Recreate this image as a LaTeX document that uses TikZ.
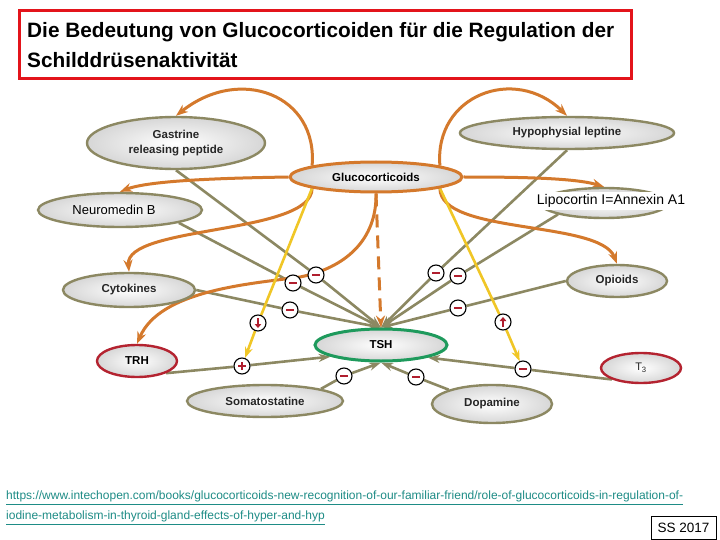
\documentclass[tikz,border=0pt]{standalone}
\usepackage{fontspec}
\setmainfont{Liberation Sans}
\usetikzlibrary{arrows.meta,shapes.geometric,calc}
\pgfdeclarelayer{bg}
\pgfsetlayers{bg,main}
\definecolor{olv}{HTML}{8C8862}
\definecolor{org}{HTML}{D4792C}
\definecolor{ylw}{HTML}{F0C626}
\definecolor{tshg}{HTML}{1E9A5C}
\definecolor{redb}{HTML}{B42330}
\definecolor{ttl}{HTML}{E3141B}
\definecolor{urlc}{HTML}{1E8C86}
\definecolor{sgnc}{HTML}{B01E2E}
\begin{document}
\begin{tikzpicture}[x=1pt,y=-1pt,
  ell/.style={ellipse, draw=olv, line width=2.4pt, inner sep=0pt, inner color=white, outer color=black!16,
    font=\bfseries\fontsize{11.5}{15}\selectfont, text=black!85, align=center},
  sgn/.style={circle, draw=black, line width=1.1pt, fill=white, minimum size=16pt, inner sep=0pt},
  minus/.style={sgn, path picture={\draw[sgnc, line width=2.2pt] ([xshift=-4pt]path picture bounding box.center) -- ([xshift=4pt]path picture bounding box.center);}},
  plus/.style={sgn, path picture={\draw[sgnc, line width=2pt] ([xshift=-4pt]path picture bounding box.center) -- ([xshift=4pt]path picture bounding box.center) ([yshift=-4pt]path picture bounding box.center) -- ([yshift=4pt]path picture bounding box.center);}},
  downc/.style={sgn, path picture={\draw[sgnc, line width=1.8pt, -{Triangle[length=4pt,width=6.5pt]}] ([yshift=5pt]path picture bounding box.center) -- ([yshift=-5pt]path picture bounding box.center);}},
  upc/.style={sgn, path picture={\draw[sgnc, line width=1.8pt, -{Triangle[length=4pt,width=6.5pt]}] ([yshift=-5pt]path picture bounding box.center) -- ([yshift=5pt]path picture bounding box.center);}},
  oliv/.style={draw=olv, line width=2.6pt},
  oarr/.style={oliv, -{Stealth[length=12pt,width=8pt]}},
  orng/.style={draw=org, line width=3pt, -{Stealth[length=12pt,width=9pt]}},
  yel/.style={draw=ylw, line width=2.6pt},
  yarr/.style={yel, -{Stealth[length=11pt,width=8pt]}},
]
\useasboundingbox (0,0) rectangle (720,540);
\begin{pgfonlayer}{bg}
\fill[white] (0,0) rectangle (720,540);
\end{pgfonlayer}

% title
\node[draw=ttl, line width=3pt, minimum width=612pt, minimum height=68pt, inner sep=0pt] (titlebox) at (325,45) {};
\node[anchor=west, align=left, inner sep=0pt, font=\bfseries\fontsize{20.8}{30}\selectfont] (title) at (27,45)
  {Die Bedeutung von Glucocorticoiden für die Regulation der\\Schilddrüsenaktivität};

% ellipses
\node[ell, minimum width=178pt, minimum height=52pt] (gastrine) at (176,143) {Gastrine\\releasing peptide};
\node[ell, draw=org, line width=3pt, text=black, minimum width=172pt, minimum height=30pt] (gc) at (376,177) {Glucocorticoids};
\node[ell, minimum width=214pt, minimum height=32pt] (leptine) at (567,133) {Hypophysial leptine};
\node[ell, minimum width=164pt, minimum height=34pt, font=\fontsize{13}{15}\selectfont, text=black] (neuromedin) at (120,210) {Neuromedin B\hspace{12pt}};
\node[ell, minimum width=128pt, minimum height=30pt] (lipo) at (604,203) {};
\node[fill=white, inner xsep=2pt, inner ysep=2pt, font=\fontsize{14}{16}\selectfont] (lipotext) at (611,201) {Lipocortin I=Annexin A1};
\node[ell, minimum width=132pt, minimum height=34pt] (cyto) at (129,290) {Cytokines};
\node[ell, minimum width=100pt, minimum height=32pt] (opioids) at (617,281) {Opioids};
\node[ell, draw=tshg, line width=3pt, text=black, minimum width=132pt, minimum height=32pt] (tsh) at (381,345) {TSH};
\node[ell, draw=redb, text=black, minimum width=80pt, minimum height=32pt] (trh) at (137,361) {TRH};
\node[ell, draw=redb, minimum width=80pt, minimum height=30pt, font=\fontsize{11}{13}\selectfont] (t3) at (641,368) {T\textsubscript{3}};
\node[ell, minimum width=156pt, minimum height=32pt] (soma) at (265,401) {Somatostatine};
\node[ell, minimum width=120pt, minimum height=38pt] (dopa) at (492,404) {Dopamine};

% signs
\node[minus] (m1) at (316,275) {};
\node[minus] (m2) at (293,283) {};
\node[minus] (m3) at (290,310) {};
\node[downc] (dn) at (258,323) {};
\node[plus]  (pl) at (242,366) {};
\node[minus] (m4) at (344,376) {};
\node[minus] (m5) at (436,273) {};
\node[minus] (m6) at (458,276) {};
\node[minus] (m7) at (458,308) {};
\node[upc]   (up) at (503,322) {};
\node[minus] (m8) at (523,369) {};
\node[minus] (m9) at (416,377) {};

\begin{pgfonlayer}{bg}
% olive connectors to TSH
\draw[oliv] (gastrine.south) -- (m1);  \draw[oarr] (m1) -- (tsh.north);
\draw[oliv] (neuromedin.south east) -- (m2);  \draw[oarr] (m2) -- (tsh.north);
\draw[oliv] (cyto.east) -- (m3);  \draw[oarr] (m3) -- (tsh.north);
\draw[oliv] (leptine.south) -- (m5);  \draw[oarr] (m5) -- (tsh.north);
\draw[oliv] (lipo.south west) -- (m6);  \draw[oarr] (m6) -- (tsh.north);
\draw[oliv] (opioids.west) -- (m7);  \draw[oarr] (m7) -- (tsh.north);
\draw[oliv] (trh.south east) -- (pl);  \draw[oarr] (pl) -- (tsh.193);
\draw[oliv] (soma.north east) -- (m4);  \draw[oarr] (m4) -- (tsh.south);
\draw[oliv] (dopa.north west) -- (m9);  \draw[oarr] (m9) -- (tsh.south);
\draw[oliv] (t3.south west) -- (m8);  \draw[oarr] (m8) -- (tsh.-15);
% orange connectors from glucocorticoids
\draw[orng] (gc.170) .. controls (318,95) and (240,65) .. (gastrine.north);
\draw[orng] (gc.10) .. controls (434,95) and (515,65) .. (leptine.north);
\draw[orng] (gc.west) .. controls (230,178) and (150,180) .. (neuromedin.north);
\draw[orng] (gc.east) .. controls (520,177) and (575,178) .. (lipo.north);
\draw[orng] (gc.190) .. controls (312,235) and (125,225) .. (cyto.north);
\draw[orng] (gc.south) .. controls (377,240) and (345,268) .. (300,277) .. controls (250,284) and (160,290) .. (trh.north);
\draw[orng] (gc.-10) .. controls (440,235) and (600,220) .. (opioids.north);
\draw[orng, dash pattern=on 13pt off 8pt] (gc.south) -- (tsh.north);
% yellow connectors
\draw[yel] (gc.190) -- (dn);  \draw[yarr] (dn) -- (pl);
\draw[yel] (gc.-10) -- (up);  \draw[yarr] (up) -- (m8);
\end{pgfonlayer}

% footer
\node[anchor=north west, align=left, inner sep=0pt, text=urlc, font=\fontsize{12}{20}\selectfont] (url) at (6,491)
  {\underline{https://www.intechopen.com/books/glucocorticoids-new-recognition-of-our-familiar-friend/role-of-glucocorticoids-in-regulation-of-}\\
   \underline{iodine-metabolism-in-thyroid-gland-effects-of-hyper-and-hyp}};
\node[draw=black, line width=0.8pt, minimum width=65pt, minimum height=23pt, inner sep=0pt, font=\fontsize{13.5}{15}\selectfont] (ss) at (683.5,527.5) {SS 2017};
\end{tikzpicture}
\end{document}
